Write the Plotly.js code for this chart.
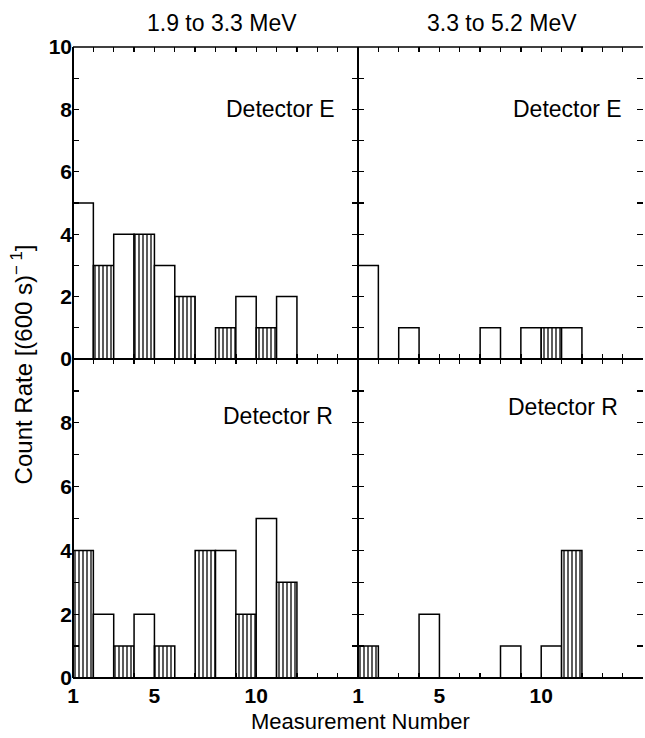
<!DOCTYPE html>
<html>
<head>
<meta charset="utf-8">
<script src="https://cdn.plot.ly/plotly-3.0.1.min.js"></script>
<style>
  html, body { margin: 0; padding: 0; background: #fff; }
  #chart { width: 645px; height: 738px; }
</style>
</head>
<body>
<div id="chart"></div>
<script>
// ---- Data ----
const measurement = [1, 2, 3, 4, 5, 6, 7, 8, 9, 10, 11];
// Detector E, 1.9 to 3.3 MeV
const detE_low  = [5, 3, 4, 4, 3, 2, 0, 1, 2, 1, 2];
// Detector E, 3.3 to 5.2 MeV
const detE_high = [3, 0, 1, 0, 0, 0, 1, 0, 1, 1, 1];
// Detector R, 1.9 to 3.3 MeV
const detR_low  = [4, 2, 1, 2, 1, 0, 4, 4, 2, 5, 3];
// Detector R, 3.3 to 5.2 MeV
const detR_high = [1, 0, 0, 2, 0, 0, 0, 1, 0, 1, 4];
// shaded (hatched) measurements: 1 = hatched, 0 = open
const shadedE = [0, 1, 0, 1, 0, 1, 0, 1, 0, 1, 0];
const shadedR = [1, 0, 1, 0, 1, 0, 1, 0, 1, 0, 1];

const xTickVals = [1, 2, 3, 4, 5, 6, 7, 8, 9, 10, 11, 12, 13, 14];
const xTickText = ['1', ' ', ' ', ' ', '5', ' ', ' ', ' ', ' ', '10', ' ', ' ', ' ', ' '];
const yTickValsTop = [0, 1, 2, 3, 4, 5, 6, 7, 8, 9, 10];
const yTickTextTop = ['0', ' ', '2', ' ', '4', ' ', '6', ' ', '8', ' ', '10'];
const yTickValsBot = [0, 1, 2, 3, 4, 5, 6, 7, 8, 9];
const yTickTextBot = ['0', ' ', '2', ' ', '4', ' ', '6', ' ', '8', ' '];
const columnTitles = ['1.9 to 3.3 MeV', '3.3 to 5.2 MeV'];
const panelLabels = ['Detector E', 'Detector R'];

const FONT = 'Liberation Sans, Arial, Helvetica, sans-serif';

function panel(values, shaded, xa, ya) {
  return {
    type: 'bar',
    x: measurement,
    y: values,
    offset: 0,
    width: 1,
    xaxis: xa,
    yaxis: ya,
    marker: {
      color: 'white',
      line: { color: 'black', width: 1.5 },
      pattern: {
        shape: shaded.map(s => s ? '|' : ''),
        fgcolor: 'black',
        bgcolor: 'white',
        size: 4,
        solidity: 0.32,
        fillmode: 'replace'
      }
    },
    hoverinfo: 'x+y',
    showlegend: false
  };
}

const data = [
  panel(detR_low,  shadedR, 'x',  'y'),   // bottom-left
  panel(detE_low,  shadedE, 'x2', 'y2'),  // top-left
  panel(detR_high, shadedR, 'x3', 'y3'),  // bottom-right
  panel(detE_high, shadedE, 'x4', 'y4')   // top-right
];

const SPLIT = 0.5055;

function xax(domain, anchor, labels) {
  return {
    domain: domain, anchor: anchor, range: [1, 15],
    tickmode: 'array', tickvals: xTickVals, ticktext: xTickText,
    showticklabels: labels,
    ticks: 'inside', ticklen: 5, tickwidth: 1.3, tickcolor: 'black',
    ticklabelstandoff: 3,
    mirror: 'ticks', showline: false, showgrid: false, zeroline: false,
    tickfont: { family: FONT, size: 21, color: 'black', weight: 'bold' },
    fixedrange: true
  };
}
function yax(domain, anchor, vals, text, labels) {
  return {
    domain: domain, anchor: anchor, range: [0, 10],
    tickmode: 'array', tickvals: vals, ticktext: text,
    showticklabels: labels,
    ticks: 'inside', ticklen: 6, tickwidth: 1.3, tickcolor: 'black',
    mirror: 'ticks', showline: false, showgrid: false, zeroline: false,
    tickfont: { family: FONT, size: 21, color: 'black', weight: 'bold' },
    fixedrange: true
  };
}

const lineStyle = { color: 'black', width: 2 };
const layout = {
  width: 645, height: 738,
  margin: { l: 73, r: 2, t: 47, b: 60 },
  paper_bgcolor: 'white', plot_bgcolor: 'white',
  bargap: 0,
  font: { family: FONT, color: 'black', size: 22 },
  xaxis:  xax([0, 0.5], 'y', true),
  yaxis:  yax([0, SPLIT], 'x', yTickValsBot, yTickTextBot, true),
  xaxis2: xax([0, 0.5], 'y2', false),
  yaxis2: yax([SPLIT, 1], 'x2', yTickValsTop, yTickTextTop, true),
  xaxis3: xax([0.5, 1], 'y3', true),
  yaxis3: yax([0, SPLIT], 'x3', yTickValsBot, yTickTextBot, false),
  xaxis4: xax([0.5, 1], 'y4', false),
  yaxis4: yax([SPLIT, 1], 'x4', yTickValsTop, yTickTextTop, false),
  shapes: [
    { type: 'line', xref: 'paper', yref: 'paper', x0: 0, x1: 0, y0: 0, y1: 1, line: lineStyle },
    { type: 'line', xref: 'paper', yref: 'paper', x0: 0.5, x1: 0.5, y0: 0, y1: 1, line: lineStyle },
    { type: 'line', xref: 'paper', yref: 'paper', x0: 0, x1: 1, y0: 1, y1: 1, line: { color: 'black', width: 1.5 } },
    { type: 'line', xref: 'paper', yref: 'paper', x0: 0, x1: 1, y0: SPLIT, y1: SPLIT, line: lineStyle },
    { type: 'line', xref: 'paper', yref: 'paper', x0: 0, x1: 1, y0: 0, y1: 0, line: lineStyle }
  ],
  annotations: [
    { text: columnTitles[0], xref: 'paper', yref: 'paper', x: 0.261, y: 1.038,
      xanchor: 'center', yanchor: 'middle', showarrow: false, font: { size: 23 } },
    { text: columnTitles[1], xref: 'paper', yref: 'paper', x: 0.7535, y: 1.038,
      xanchor: 'center', yanchor: 'middle', showarrow: false, font: { size: 23 } },
    { text: panelLabels[0], xref: 'x2', yref: 'y2', x: 13.95, y: 8,
      xanchor: 'right', yanchor: 'middle', showarrow: false, font: { size: 23 } },
    { text: panelLabels[0], xref: 'x4', yref: 'y4', x: 14.05, y: 8,
      xanchor: 'right', yanchor: 'middle', showarrow: false, font: { size: 23 } },
    { text: panelLabels[1], xref: 'x', yref: 'y', x: 13.85, y: 8.2,
      xanchor: 'right', yanchor: 'middle', showarrow: false, font: { size: 23 } },
    { text: panelLabels[1], xref: 'x3', yref: 'y3', x: 13.85, y: 8.5,
      xanchor: 'right', yanchor: 'middle', showarrow: false, font: { size: 23 } },
    { text: 'Measurement Number', xref: 'paper', yref: 'paper', x: 0.505, y: -0.069,
      xanchor: 'center', yanchor: 'middle', showarrow: false, font: { size: 22 } },
    { text: 'Count Rate [(600 s)<sup>\u2212 1</sup>]', xref: 'paper', yref: 'paper',
      x: -0.0895, y: 0.497, xanchor: 'center', yanchor: 'middle', textangle: -90,
      showarrow: false, font: { size: 24 } }
  ]
};

Plotly.newPlot('chart', data, layout, { displayModeBar: false, staticPlot: true });
</script>
</body>
</html>
